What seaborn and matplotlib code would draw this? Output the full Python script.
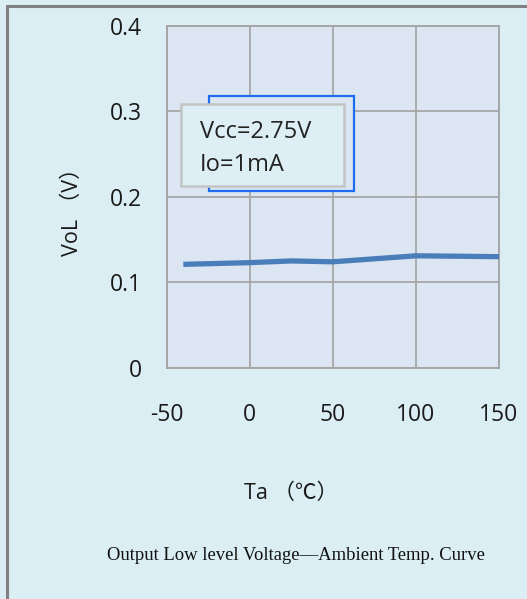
import matplotlib
matplotlib.use("Agg")
import matplotlib.pyplot as plt
import seaborn as sns
import pandas as pd
from matplotlib.patches import Rectangle
from matplotlib.lines import Line2D

# ---- data ----
temps = [-40, 0, 25, 50, 100, 150]
vol = [0.121, 0.123, 0.125, 0.124, 0.131, 0.130]
x_ticks = [-50, 0, 50, 100, 150]
y_ticks = [0, 0.1, 0.2, 0.3, 0.4]
y_tick_labels = ["0", "0.1", "0.2", "0.3", "0.4"]
note_lines = ["Vcc=2.75V", "Io=1mA"]
x_label = "Ta \uff08\u2103\uff09"
y_label = "VoL \uff08V\uff09"
caption = "Output Low level Voltage\u2014Ambient Temp. Curve"

FIG_BG = "#dbeef3"
PLOT_BG = "#dce6f2"
GRID = "#a6a6a6"
LINE = "#4a7ebb"

sns.set_style("white")
plt.rcParams['font.family'] = ['Open Sans', 'Noto Sans CJK SC', 'DejaVu Sans']
plt.rcParams['axes.unicode_minus'] = False

fig = plt.figure(figsize=(5.27, 5.99), dpi=100, facecolor=FIG_BG)
ax = fig.add_axes([0.3163, 0.3861, 0.6306, 0.5705])
ax.set_facecolor(PLOT_BG)

df = pd.DataFrame({"Ta": temps, "VoL": vol})
sns.lineplot(data=df, x="Ta", y="VoL", ax=ax, color=LINE, linewidth=3.8,
             solid_capstyle="butt", zorder=3)

ax.set_xlim(-50, 150)
ax.set_ylim(0, 0.4)
ax.set_xticks(x_ticks)
ax.set_xticklabels([str(v) for v in x_ticks])
ax.set_yticks(y_ticks)
ax.set_yticklabels(y_tick_labels)
ax.set_xlabel("")
ax.set_ylabel("")
ax.grid(True, color=GRID, linewidth=1.3)
ax.set_axisbelow(True)
for s in ax.spines.values():
    s.set_color(GRID)
    s.set_linewidth(1.4)
    s.set_visible(True)
ax.tick_params(axis="x", direction="out", length=6.5, width=1.2, color=GRID,
               pad=19, labelsize=16.5, labelcolor="#1a1a1a")
ax.tick_params(axis="y", direction="out", length=6, width=1.2, color=GRID,
               pad=12, labelsize=16.5, labelcolor="#1a1a1a")

# annotation box (blue offset frame + grey box)
ax.add_patch(Rectangle((0.127, 0.517), 0.437, 0.278, transform=ax.transAxes,
                       facecolor=PLOT_BG, edgecolor="#1e6cf0", linewidth=1.6, zorder=4))
ax.add_patch(Rectangle((0.043, 0.532), 0.491, 0.240, transform=ax.transAxes,
                       facecolor="#ddeef4", edgecolor="#c4c4c4", linewidth=1.8, zorder=5))
ax.text(0.100, 0.690, note_lines[0], transform=ax.transAxes, fontsize=17,
        va="center", ha="left", color="#222222", zorder=6)
ax.text(0.100, 0.593, note_lines[1], transform=ax.transAxes, fontsize=17,
        va="center", ha="left", color="#222222", zorder=6)

# axis labels and caption
fig.text(0.1366, 0.6544, y_label, rotation=90, ha="center", va="center",
         fontsize=15.5, color="#1a1a1a")
fig.text(0.552, 0.177, x_label, ha="center", va="center",
         fontsize=15.5, color="#1a1a1a")
fig.text(0.5617, 0.0718, caption, ha="center", va="center",
         fontsize=13.4, color="#111111", family=["Liberation Serif"])

# outer frame (top and left)
fig.add_artist(Line2D([0.0142, 1.0], [0.9908, 0.9908], transform=fig.transFigure,
                      color="#808080", linewidth=2.2))
fig.add_artist(Line2D([0.0142, 0.0142], [0.0, 0.9908], transform=fig.transFigure,
                      color="#808080", linewidth=2.2))

fig.savefig("out.png", dpi=100, facecolor=FIG_BG)
